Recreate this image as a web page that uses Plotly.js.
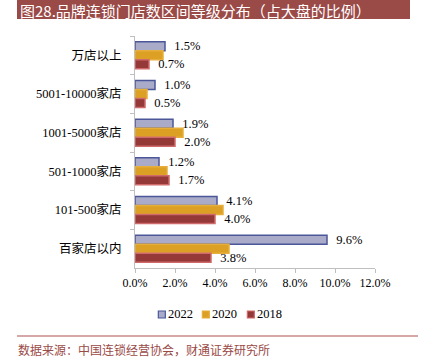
<!DOCTYPE html>
<html>
<head>
<meta charset="utf-8">
<script src="https://cdn.plot.ly/plotly-3.0.1.min.js"></script>
<style>html,body{margin:0;padding:0;background:#fff;}#chart{width:425px;height:358px;}</style>
</head>
<body>
<div id="chart"></div>
<script>
var categories = ["万店以上", "5001-10000家店", "1001-5000家店", "501-1000家店", "101-500家店", "百家店以内"];
var seriesNames = ["2022", "2020", "2018"];
var values2022 = [1.5, 1.0, 1.9, 1.2, 4.1, 9.6];
var values2020 = [1.4, 0.6, 2.4, 1.6, 4.4, 4.7];
var values2018 = [0.7, 0.5, 2.0, 1.7, 4.0, 3.8];
var xTickVals = [0, 2, 4, 6, 8, 10, 12];
var xTickText = ["0.0%", "2.0%", "4.0%", "6.0%", "8.0%", "10.0%", "12.0%"];
var titleText = "图28.品牌连锁门店数区间等级分布（占大盘的比例）";
var sourceText = "数据来源：中国连锁经营协会，财通证券研究所";

var serif = "Liberation Serif, Noto Sans CJK SC, serif";
var cjk = "Noto Sans CJK SC, sans-serif";

var fills = ["#A9ABC8", "#DCA024", "#943838"];
var borders = ["#4B5799", "#E6AE3A", "#D06A6A"];

function fmt(arr){ return arr.map(function(v){ return "  " + v.toFixed(1) + "%"; }); }

var traces = [
  {type:"bar", orientation:"h", name:seriesNames[0], y:categories, x:values2022,
   marker:{color:fills[0], line:{color:borders[0], width:1.5}},
   text:fmt(values2022), textposition:"outside", cliponaxis:false, constraintext:"none",
   textfont:{family:serif, size:12.5, color:"#000"}},
  {type:"bar", orientation:"h", name:seriesNames[1], y:categories, x:values2020,
   marker:{color:fills[1], line:{color:borders[1], width:1.5}}},
  {type:"bar", orientation:"h", name:seriesNames[2], y:categories, x:values2018,
   marker:{color:fills[2], line:{color:borders[2], width:1.5}},
   text:fmt(values2018), textposition:"outside", cliponaxis:false, constraintext:"none",
   textfont:{family:serif, size:12.5, color:"#000"}}
];

var shapes = [
  {type:"rect", xref:"paper", yref:"paper", x0:-0.4917, x1:1.1458, y0:1.0733, y1:1.1552,
   fillcolor:"#9A4A47", line:{width:0}, layer:"below"},
  {type:"line", xref:"paper", yref:"paper", x0:-0.4917, x1:1.1792, y0:-0.2931, y1:-0.2931,
   line:{color:"#C98A8A", width:1.5}}
];
var annotations = [
  {xref:"paper", yref:"paper", x:-0.485, y:1.112, xanchor:"left", yanchor:"middle",
   text:titleText, showarrow:false, borderpad:0, font:{family:cjk, size:15, color:"#fff"}},
  {xref:"paper", yref:"paper", x:-0.4917, y:-0.353, xanchor:"left", yanchor:"middle",
   text:sourceText, showarrow:false, borderpad:0, font:{family:cjk, size:12, color:"#9A4A47"}}
];

// custom compact legend
var legX = [0.0972, 0.2806, 0.4681];
for (var i = 0; i < seriesNames.length; i++) {
  shapes.push({type:"rect", xref:"paper", yref:"paper", x0:legX[i], x1:legX[i] + 0.0292,
    y0:-0.2155, y1:-0.1853, fillcolor:fills[i], line:{color:borders[i], width:1.2}});
  annotations.push({xref:"paper", yref:"paper", x:legX[i] + 0.0347, y:-0.1983,
    xanchor:"left", yanchor:"middle", text:seriesNames[i], showarrow:false, borderpad:0,
    font:{family:serif, size:12.5, color:"#000"}});
}

var layout = {
  width:425, height:358,
  margin:{l:135, r:50, t:36, b:90},
  paper_bgcolor:"#fff", plot_bgcolor:"#fff",
  barmode:"group", bargap:0.3, bargroupgap:0,
  showlegend:false,
  xaxis:{range:[0,12], tickvals:xTickVals, ticktext:xTickText, showgrid:false, zeroline:false,
         showline:true, linecolor:"#BFBFBF", linewidth:1, ticks:"outside", ticklen:4, tickcolor:"#BFBFBF",
         tickfont:{family:serif, size:12, color:"#000"}, fixedrange:true},
  yaxis:{autorange:"reversed", type:"category", showgrid:false, zeroline:false,
         showline:true, linecolor:"#BFBFBF", linewidth:1, ticks:"outside", ticklen:4, tickcolor:"#BFBFBF",
         tickson:"boundaries", ticklabelstandoff:10,
         tickfont:{family:serif, size:12.5, color:"#000"}, fixedrange:true},
  shapes:shapes,
  annotations:annotations
};

Plotly.newPlot("chart", traces, layout, {displayModeBar:false, staticPlot:true});
</script>
</body>
</html>
